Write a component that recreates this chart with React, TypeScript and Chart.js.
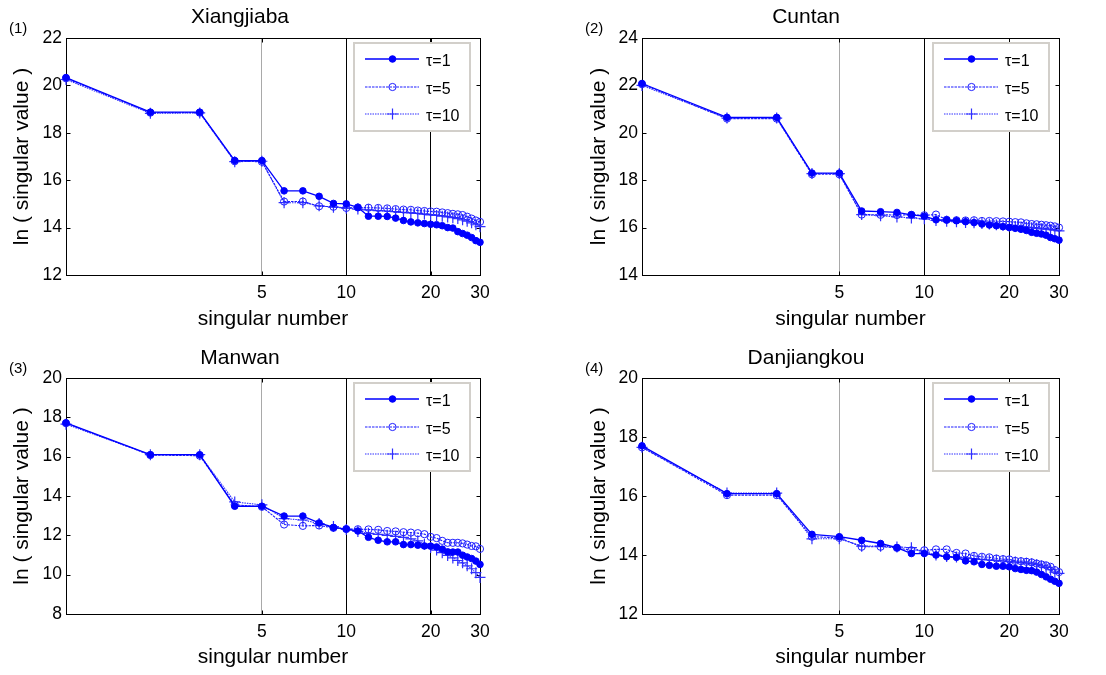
import React, { useEffect, useRef } from 'react';
import { Chart, registerables } from 'chart.js';

Chart.register(...registerables);

// Singular numbers on the (logarithmic) horizontal axis
const singularNumbers = [1, 2, 3, 4, 5, 6, 7, 8, 9, 10, 11, 12, 13, 14, 15, 16, 17, 18, 19, 20, 21, 22, 23, 24, 25, 26, 27, 28, 29, 30];
const xTickValues = [5, 10, 20, 30];
const tauLabels = ['τ=1', 'τ=5', 'τ=10'];
const yLabel = 'ln ( singular value )';
const xLabel = 'singular number';

// (1) Xiangjiaba
const xiangjiabaTau1 = [20.33, 18.87, 18.87, 16.83, 16.83, 15.55, 15.55, 15.32, 15.02, 15.0, 14.85, 14.48, 14.48, 14.47, 14.4, 14.3, 14.24, 14.2, 14.17, 14.14, 14.12, 14.08, 14.0, 13.98, 13.83, 13.75, 13.68, 13.58, 13.45, 13.38];
const xiangjiabaTau5 = [20.3, 18.85, 18.85, 16.8, 16.78, 15.1, 15.1, 14.9, 14.88, 14.83, 14.85, 14.84, 14.83, 14.81, 14.78, 14.76, 14.75, 14.72, 14.7, 14.68, 14.67, 14.64, 14.61, 14.58, 14.56, 14.53, 14.46, 14.38, 14.3, 14.24];
const xiangjiabaTau10 = [20.25, 18.82, 18.84, 16.78, 16.8, 15.05, 15.05, 14.92, 14.86, 14.82, 14.78, 14.75, 14.72, 14.7, 14.67, 14.64, 14.62, 14.6, 14.57, 14.54, 14.51, 14.48, 14.45, 14.42, 14.38, 14.33, 14.27, 14.2, 14.12, 14.04];

// (2) Cuntan
const cuntanTau1 = [22.08, 20.65, 20.65, 18.3, 18.3, 16.7, 16.67, 16.64, 16.54, 16.48, 16.33, 16.32, 16.29, 16.25, 16.21, 16.15, 16.11, 16.08, 16.04, 16.0, 15.97, 15.93, 15.88, 15.8, 15.76, 15.73, 15.68, 15.58, 15.53, 15.47];
const cuntanTau5 = [22.05, 20.6, 20.6, 18.25, 18.25, 16.55, 16.54, 16.53, 16.54, 16.52, 16.55, 16.33, 16.31, 16.3, 16.31, 16.28, 16.28, 16.27, 16.26, 16.25, 16.23, 16.22, 16.18, 16.15, 16.14, 16.12, 16.1, 16.08, 16.05, 16.0];
const cuntanTau10 = [22.0, 20.62, 20.62, 18.28, 18.28, 16.55, 16.5, 16.45, 16.41, 16.37, 16.3, 16.27, 16.25, 16.22, 16.2, 16.17, 16.15, 16.12, 16.1, 16.07, 16.05, 16.03, 16.01, 15.99, 15.97, 15.95, 15.93, 15.91, 15.89, 15.86];

// (3) Manwan
const manwanTau1 = [17.72, 16.1, 16.1, 13.48, 13.48, 12.98, 12.98, 12.63, 12.4, 12.32, 12.22, 11.9, 11.75, 11.67, 11.67, 11.53, 11.53, 11.5, 11.46, 11.45, 11.41, 11.3, 11.16, 11.15, 11.15, 10.99, 10.9, 10.82, 10.69, 10.52];
const manwanTau5 = [17.7, 16.08, 16.05, 13.55, 13.45, 12.55, 12.48, 12.5, 12.38, 12.32, 12.31, 12.3, 12.28, 12.22, 12.2, 12.16, 12.14, 12.11, 12.06, 11.92, 11.86, 11.72, 11.62, 11.62, 11.62, 11.59, 11.53, 11.46, 11.44, 11.31];
const manwanTau10 = [17.65, 16.1, 16.1, 13.7, 13.55, 12.85, 12.78, 12.6, 12.45, 12.3, 12.2, 12.1, 12.05, 12.0, 11.95, 11.9, 11.82, 11.72, 11.55, 11.38, 11.25, 11.12, 10.98, 10.85, 10.72, 10.6, 10.45, 10.3, 10.1, 9.86];

// (4) Danjiangkou
const danjiangkouTau1 = [17.7, 16.08, 16.08, 14.7, 14.62, 14.5, 14.39, 14.25, 14.05, 14.05, 14.0, 13.94, 13.92, 13.8, 13.77, 13.68, 13.65, 13.62, 13.62, 13.6, 13.54, 13.51, 13.48, 13.47, 13.42, 13.34, 13.26, 13.18, 13.11, 13.04];
const danjiangkouTau5 = [17.65, 16.03, 16.03, 14.62, 14.58, 14.28, 14.28, 14.24, 14.16, 14.16, 14.19, 14.19, 14.07, 14.05, 13.97, 13.94, 13.92, 13.88, 13.86, 13.85, 13.8, 13.79, 13.77, 13.75, 13.71, 13.68, 13.65, 13.6, 13.49, 13.42];
const danjiangkouTau10 = [17.65, 16.1, 16.1, 14.55, 14.55, 14.3, 14.3, 14.27, 14.25, 14.1, 14.0, 13.95, 13.93, 13.9, 13.88, 13.85, 13.83, 13.82, 13.8, 13.78, 13.76, 13.74, 13.72, 13.7, 13.67, 13.63, 13.58, 13.5, 13.42, 13.38];

const FONT = "'Liberation Sans', Arial, Helvetica, sans-serif";

type Area = { left: number; top: number; right: number; bottom: number };
type Panel = {
  tag: string;
  title: string;
  yMin: number;
  yMax: number;
  series: number[][];
  canvas: { left: number; top: number; width: number; height: number };
  area: Area;
  titlePadTop: number;
  yTitlePad: number;
  xTitlePad: number;
};

const panels: Panel[] = [
  {
    tag: '(1)', title: 'Xiangjiaba', yMin: 12, yMax: 22,
    series: [xiangjiabaTau1, xiangjiabaTau5, xiangjiabaTau10],
    canvas: { left: 0, top: 0, width: 553, height: 337 },
    area: { left: 66, top: 38, right: 480, bottom: 275 },
    titlePadTop: 4.2, yTitlePad: 9.8, xTitlePad: 5.5,
  },
  {
    tag: '(2)', title: 'Cuntan', yMin: 14, yMax: 24,
    series: [cuntanTau1, cuntanTau5, cuntanTau10],
    canvas: { left: 553, top: 0, width: 553, height: 337 },
    area: { left: 89, top: 38, right: 506, bottom: 275 },
    titlePadTop: 4.2, yTitlePad: 33.2, xTitlePad: 5.5,
  },
  {
    tag: '(3)', title: 'Manwan', yMin: 8, yMax: 20,
    series: [manwanTau1, manwanTau5, manwanTau10],
    canvas: { left: 0, top: 337, width: 553, height: 338 },
    area: { left: 66, top: 41, right: 480, bottom: 277 },
    titlePadTop: 8.4, yTitlePad: 9.8, xTitlePad: 5,
  },
  {
    tag: '(4)', title: 'Danjiangkou', yMin: 12, yMax: 20,
    series: [danjiangkouTau1, danjiangkouTau5, danjiangkouTau10],
    canvas: { left: 553, top: 337, width: 553, height: 338 },
    area: { left: 89, top: 41, right: 506, bottom: 277 },
    titlePadTop: 8.4, yTitlePad: 33.2, xTitlePad: 5,
  },
];

const seriesStyles = [
  { color: '#0000ff', dash: [] as number[], width: 1.3, pointStyle: 'circle', radius: 3.3, fill: '#0000ff', pointBorder: 1 },
  { color: '#1e1eff', dash: [2.5, 1], width: 1.1, pointStyle: 'circle', radius: 3.6, fill: 'rgba(0,0,0,0)', pointBorder: 1 },
  { color: '#3030ff', dash: [1.5, 1], width: 1.1, pointStyle: 'cross', radius: 5.5, fill: 'rgba(0,0,0,0)', pointBorder: 1.2 },
];

function drawMarker(ctx: CanvasRenderingContext2D, style: typeof seriesStyles[number], x: number, y: number) {
  ctx.save();
  ctx.setLineDash([]);
  ctx.lineWidth = style.pointBorder;
  ctx.strokeStyle = style.color;
  ctx.fillStyle = style.fill;
  ctx.beginPath();
  if (style.pointStyle === 'cross') {
    ctx.moveTo(x - style.radius, y);
    ctx.lineTo(x + style.radius, y);
    ctx.moveTo(x, y - style.radius);
    ctx.lineTo(x, y + style.radius);
    ctx.stroke();
  } else {
    ctx.arc(x, y, style.radius, 0, Math.PI * 2);
    ctx.fill();
    ctx.stroke();
  }
  ctx.restore();
}

function makeDecorPlugin(panel: Panel) {
  return {
    id: 'panelDecor',
    beforeDatasetsDraw(chart: any) {
      const { ctx, chartArea: a, scales } = chart;
      ctx.save();
      ctx.strokeStyle = '#000';
      ctx.lineWidth = 1;
      const l = Math.round(a.left) + 0.5;
      const t = Math.round(a.top) + 0.5;
      const r = Math.round(a.right) + 0.5;
      const b = Math.round(a.bottom) + 0.5;
      ctx.strokeRect(l, t, r - l, b - t);
      // inward tick marks on all four sides
      ctx.beginPath();
      for (const v of xTickValues) {
        const px = Math.round(scales.x.getPixelForValue(v)) + 0.5;
        ctx.moveTo(px, t); ctx.lineTo(px, t + 4);
        ctx.moveTo(px, b); ctx.lineTo(px, b - 4);
      }
      for (const tk of scales.y.ticks) {
        const py = Math.round(scales.y.getPixelForValue(tk.value)) + 0.5;
        ctx.moveTo(l, py); ctx.lineTo(l + 4, py);
        ctx.moveTo(r, py); ctx.lineTo(r - 4, py);
      }
      ctx.stroke();
      ctx.restore();
    },
    afterDatasetsDraw(chart: any) {
      const { ctx, chartArea: a } = chart;
      ctx.save();
      // legend box
      const w = 116, h = 88;
      const lx = Math.round(a.right - 10 - w);
      const ly = Math.round(a.top + 5);
      ctx.fillStyle = '#ffffff';
      ctx.fillRect(lx, ly, w, h);
      ctx.strokeStyle = '#d2cfca';
      ctx.lineWidth = 2;
      ctx.strokeRect(lx, ly, w, h);
      const rows = [16, 44, 71];
      chart.data.datasets.forEach((ds: any, i: number) => {
        const st = seriesStyles[i];
        const ry = ly + rows[i];
        ctx.save();
        ctx.strokeStyle = st.color;
        ctx.lineWidth = st.width;
        ctx.setLineDash(st.dash);
        ctx.beginPath();
        ctx.moveTo(lx + 11, ry);
        ctx.lineTo(lx + 65, ry);
        ctx.stroke();
        ctx.restore();
        drawMarker(ctx, st, lx + 38.5, ry);
        ctx.fillStyle = '#000';
        ctx.font = `16px ${FONT}`;
        ctx.textAlign = 'left';
        ctx.textBaseline = 'middle';
        ctx.fillText(ds.label, lx + 72, ry + 3);
      });
      // panel tag
      ctx.fillStyle = '#000';
      ctx.font = `15px ${FONT}`;
      ctx.textAlign = 'left';
      ctx.textBaseline = 'middle';
      ctx.fillText(panel.tag, a.left - 57, a.top - 9);
      ctx.restore();
    },
  };
}

function PanelChart({ panel }: { panel: Panel }) {
  const ref = useRef<HTMLCanvasElement>(null);

  useEffect(() => {
    const canvas = ref.current;
    if (!canvas) return;
    const { canvas: box, area } = panel;
    const titleLine = 21 * 1.2;
    const chart = new Chart(canvas, {
      type: 'line',
      data: {
        datasets: panel.series.map((vals, i) => {
          const st = seriesStyles[i];
          return {
            label: tauLabels[i],
            data: singularNumbers.map((n, k) => ({ x: n, y: vals[k] })),
            borderColor: st.color,
            borderWidth: st.width,
            borderDash: st.dash,
            backgroundColor: st.fill,
            pointStyle: st.pointStyle as any,
            pointRadius: st.radius,
            pointBorderWidth: st.pointBorder,
            pointBorderColor: st.color,
            pointBackgroundColor: st.fill,
            tension: 0,
            fill: false,
            clip: false as any,
          };
        }),
      },
      options: {
        responsive: false,
        animation: false,
        devicePixelRatio: 1,
        events: [],
        layout: { padding: { left: 0, top: 0, bottom: 0, right: box.width - area.right } },
        plugins: {
          legend: { display: false },
          tooltip: { enabled: false },
          title: {
            display: true,
            text: panel.title,
            color: '#000',
            font: { family: FONT, size: 21, weight: 'normal' },
            padding: { top: panel.titlePadTop, bottom: area.top - panel.titlePadTop - titleLine },
          },
        },
        scales: {
          x: {
            type: 'logarithmic',
            min: 1,
            max: 30,
            afterBuildTicks: (s: any) => {
              s.ticks = xTickValues.map((v) => ({ value: v }));
            },
            afterFit: (s: any) => {
              s.height = box.height - area.bottom;
            },
            ticks: {
              autoSkip: false,
              maxRotation: 0,
              padding: 8,
              color: '#000',
              font: { family: FONT, size: 17.5 },
              callback: (v: any) => String(v),
            },
            grid: {
              drawTicks: false,
              lineWidth: 1,
              color: (c: any) => (c.tick && c.tick.value === 5 ? '#a9a9a9' : '#000000'),
            },
            border: { display: false },
            title: {
              display: true,
              text: xLabel,
              color: '#000',
              font: { family: FONT, size: 21 },
              padding: { top: 0, bottom: panel.xTitlePad },
            },
          },
          y: {
            type: 'linear',
            min: panel.yMin,
            max: panel.yMax,
            afterFit: (s: any) => {
              s.width = area.left;
            },
            ticks: {
              stepSize: 2,
              padding: 4,
              color: '#000',
              font: { family: FONT, size: 17.5 },
            },
            grid: { display: false, drawTicks: false },
            border: { display: false },
            title: {
              display: true,
              text: yLabel,
              color: '#000',
              font: { family: FONT, size: 21 },
              padding: { top: panel.yTitlePad, bottom: 0 },
            },
          },
        },
      } as any,
      plugins: [makeDecorPlugin(panel)],
    });
    return () => chart.destroy();
  }, [panel]);

  const { canvas: box } = panel;
  return (
    <canvas
      ref={ref}
      width={box.width}
      height={box.height}
      style={{ position: 'absolute', left: box.left, top: box.top, width: box.width, height: box.height }}
    />
  );
}

export default function App() {
  return (
    <div style={{ position: 'absolute', left: 0, top: 0, width: 1106, height: 675, background: '#fff', overflow: 'hidden' }}>
      {panels.map((p) => (
        <PanelChart key={p.tag} panel={p} />
      ))}
    </div>
  );
}
